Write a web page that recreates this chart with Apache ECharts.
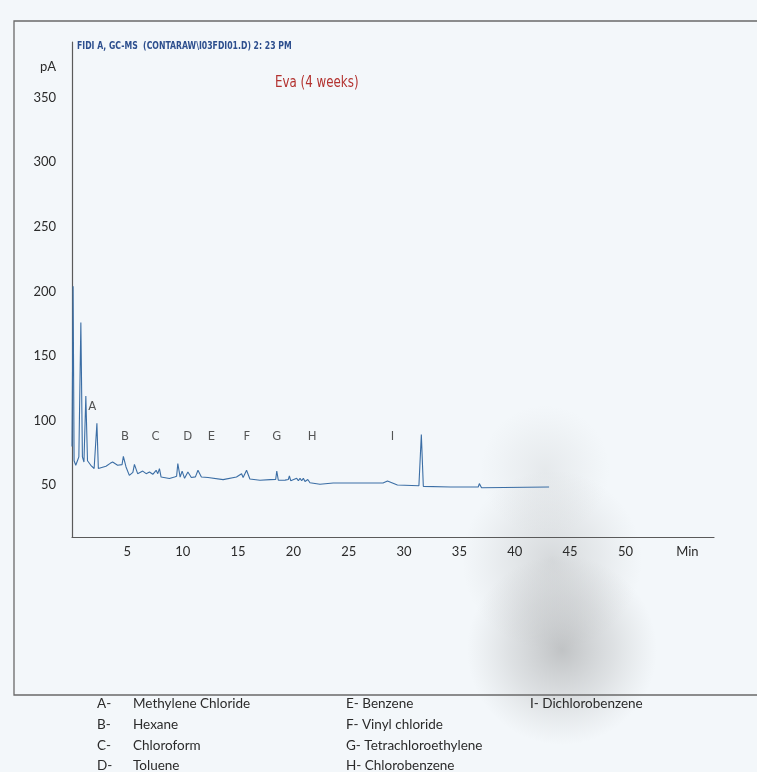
<!DOCTYPE html>
<html>
<head>
<meta charset="utf-8">
<title>Eva (4 weeks)</title>
<script src="https://cdn.jsdelivr.net/npm/echarts@6/dist/echarts.min.js"></script>
<style>
  html, body { margin: 0; padding: 0; background: #f3f7fa; }
  #container { width: 757px; height: 772px; }
</style>
</head>
<body>
<div id="container"></div>
<script>
// retention time (min) and detector signal (pA)
const retentionTimes = [
  0.00, 0.10, 0.19, 0.34, 0.49, 0.62, 0.80, 0.94, 1.08, 1.25, 1.40, 1.70, 2.00, 2.12, 2.25, 2.38,
  3.07, 3.45, 3.67, 4.12, 4.52, 4.64, 4.88, 5.18, 5.50, 5.64, 5.93, 6.39, 6.70, 7.00, 7.30, 7.60,
  7.75, 7.90, 8.05, 8.80, 9.26, 9.45, 9.56, 9.77, 9.95, 10.17, 10.47, 10.78, 11.15, 11.38, 11.69,
  12.29, 13.65, 14.86, 15.32, 15.46, 15.77, 16.07, 16.98, 17.90, 18.40, 18.50, 18.64, 19.25, 19.54,
  19.64, 19.76, 20.30, 20.45, 20.60, 20.75, 20.90, 21.05, 21.30, 21.50, 22.40, 23.60, 28.10, 28.50,
  29.40, 31.34, 31.56, 31.74, 34.20, 36.70, 36.80, 37.00, 43.10
]
const signal = [
  80, 204, 69, 65.5, 69, 72, 176, 72, 68, 119, 69, 65.5, 63, 64, 98, 63,
  64.7, 67, 68, 65.5, 66, 72.4, 64.2, 57.7, 60, 66.2, 59, 61, 59, 60.3, 58.5, 61.6,
  59, 62.9, 56.4, 55.2, 56.4, 57, 66.8, 56.4, 61, 55.4, 60.3, 56, 56.5, 61.6, 56.4,
  56, 54.4, 56.4, 59, 56, 61.6, 54.9, 53.9, 54.4, 54.5, 61, 53.9, 54, 54.5,
  57.2, 53.6, 55.4, 53.5, 55.4, 53.5, 55.4, 53, 54.5, 52, 50.8, 51.8, 51.8, 53.3,
  50.2, 49.7, 89.2, 49.2, 48.7, 48.7, 51.3, 48.1, 48.7
]

// peak letters above the trace
const peakLetters = ['A', 'B', 'C', 'D', 'E', 'F', 'G', 'H', 'I']
const peakLetterTimes = [1.83, 4.8, 7.55, 10.45, 12.6, 15.8, 18.5, 21.7, 28.96]
const peakLetterLevels = [111, 88, 88, 88, 88, 88, 88, 88, 88]

// axis ticks
const yTickValues = [50, 100, 150, 200, 250, 300, 350]
const yUnitLevel = 374

// compound key under the frame
const keyColumns = [
  [['A-', 'Methylene Chloride'], ['B-', 'Hexane'], ['C-', 'Chloroform'], ['D-', 'Toluene']],
  [['E-', 'Benzene'], ['F-', 'Vinyl chloride'], ['G-', 'Tetrachloroethylene'], ['H-', 'Chlorobenzene']],
  [['I-', 'Dichlorobenzene']]
]

const keyFont = 'Lato, "Open Sans", sans-serif'
const narrowFont = '"DejaVu Sans Condensed", "Liberation Sans Narrow", "Roboto Condensed", "DejaVu Sans", sans-serif'

const myChart = echarts.init(document.getElementById('container'))

// key texts
const keyGraphics = []
const colX = [[97, 133], [346, 346], [530, 530]]
const rowY = [705, 726, 747, 767]
keyColumns.forEach((col, c) => {
  col.forEach((item, r) => {
    const sameStart = colX[c][0] === colX[c][1]
    keyGraphics.push({
      type: 'text',
      left: colX[c][0],
      top: rowY[r] - 8,
      style: {
        text: sameStart ? item[0] + ' ' + item[1] : item[0],
        font: '13.5px ' + keyFont,
        fill: '#2b2b2b'
      }
    })
    if (!sameStart) {
      keyGraphics.push({
        type: 'text',
        left: colX[c][1],
        top: rowY[r] - 8,
        style: { text: item[1], font: '13.5px ' + keyFont, fill: '#2b2b2b' }
      })
    }
  })
})

// soft grey shadow of the scan (a few blurred blobs)
const shadowBlobs = [
  [545, 470, 65, 0.1],
  [552, 560, 90, 0.22],
  [562, 650, 95, 0.38]
].map(b => ({
  type: 'circle',
  silent: true,
  z: -10,
  shape: { cx: b[0], cy: b[1], r: b[2] },
  style: {
    fill: {
      type: 'radial', x: 0.5, y: 0.5, r: 0.5,
      colorStops: [
        { offset: 0, color: 'rgba(110,110,110,' + b[3] + ')' },
        { offset: 0.55, color: 'rgba(130,130,130,' + b[3] * 0.5 + ')' },
        { offset: 1, color: 'rgba(150,150,150,0)' }
      ]
    }
  }
}))

const option = {
  backgroundColor: '#f3f7fa',
  animation: false,
  grid: { left: 72, right: 43, top: 42, bottom: 235 },
  xAxis: {
    type: 'value',
    min: 0,
    max: 58,
    interval: 5,
    axisLine: { lineStyle: { color: '#5a5a5a', width: 1.2 } },
    axisTick: { show: false },
    splitLine: { show: false },
    axisLabel: {
      margin: 8,
      color: '#2b2b2b',
      fontFamily: keyFont,
      fontSize: 13,
      showMaxLabel: false,
      formatter: v => (v === 0 || v === 58 ? '' : v === 55 ? '    Min' : String(v))
    }
  },
  yAxis: {
    type: 'value',
    min: 10,
    max: 393,
    axisLine: { show: true, lineStyle: { color: '#5a5a5a', width: 1.2 } },
    axisTick: { show: false },
    splitLine: { show: false },
    axisLabel: {
      margin: 16,
      color: '#2b2b2b',
      fontFamily: keyFont,
      fontSize: 13,
      customValues: yTickValues.concat([yUnitLevel]),
      formatter: v => (v === yUnitLevel ? 'pA' : String(v))
    }
  },
  series: [
    {
      name: 'signal',
      type: 'line',
      symbol: 'none',
      lineStyle: { color: '#3b6ea5', width: 1.1 },
      data: retentionTimes.map((t, i) => [t, signal[i]])
    },
    {
      name: 'peaks',
      type: 'scatter',
      symbolSize: 0,
      silent: true,
      label: {
        show: true,
        position: 'inside',
        formatter: p => p.data[2],
        color: '#2b2b2b',
        fontFamily: narrowFont,
        fontSize: 13
      },
      data: peakLetterTimes.map((t, i) => [t, peakLetterLevels[i], peakLetters[i]])
    }
  ],
  graphic: shadowBlobs.concat([
    // outer frame
    {
      type: 'rect',
      silent: true,
      shape: { x: 14, y: 21, width: 760, height: 674 },
      style: { fill: 'none', stroke: '#6a6a6a', lineWidth: 1.3 }
    },
    {
      type: 'text',
      x: 77,
      y: 41,
      scaleX: 0.82,
      style: {
        text: 'FIDI A, GC-MS  (CONTARAW\\I03FDI01.D) 2: 23 PM',
        font: 'bold 10.5px ' + narrowFont,
        fill: '#2d4f8e'
      }
    },
    {
      type: 'text',
      x: 275,
      y: 74,
      scaleX: 0.8,
      style: {
        text: 'Eva (4 weeks)',
        font: '16.5px ' + narrowFont,
        fill: '#b3322f'
      }
    }
  ]).concat(keyGraphics)
}

option && myChart.setOption(option)
</script>
</body>
</html>
